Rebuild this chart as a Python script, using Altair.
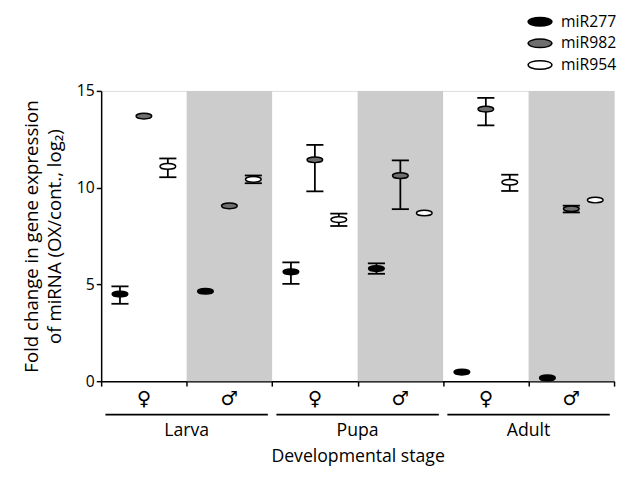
import altair as alt
import pandas as pd

# ---- data ----
stages = ["Larva", "Pupa", "Adult"]
sexes = ["♀", "♂"]
series = ["miR277", "miR982", "miR954"]

# mean values per group (Larva ♀, Larva ♂, Pupa ♀, Pupa ♂, Adult ♀, Adult ♂)
mir277_mean = [4.5, 4.65, 5.65, 5.82, 0.47, 0.17]
mir982_mean = [13.7, 9.06, 11.44, 10.62, 14.06, 8.91]
mir954_mean = [11.1, 10.43, 8.35, 8.69, 10.28, 9.36]

mir277_lo = [4.0, None, 5.03, 5.55, None, None]
mir277_hi = [4.9, None, 6.14, 6.09, None, None]
mir982_lo = [None, None, 9.81, 8.89, 13.22, 8.72]
mir982_hi = [None, None, 12.21, 11.41, 14.64, 9.07]
mir954_lo = [10.54, 10.23, 8.02, None, 9.83, None]
mir954_hi = [11.51, 10.63, 8.66, None, 10.67, None]

fill_colors = ["#000000", "#6e6e6e", "#ffffff"]
shade_color = "#cccccc"

W, H = 523, 296
FONT = "Open Sans"

# ---- build tables ----
groups = [(st, sx) for st in stages for sx in sexes]
offsets = [0.22, 0.5, 0.78]
cap_half = 0.1

means = [mir277_mean, mir982_mean, mir954_mean]
los = [mir277_lo, mir982_lo, mir954_lo]
his = [mir277_hi, mir982_hi, mir954_hi]

rows = []
for gi, (st, sx) in enumerate(groups):
    for si, s in enumerate(series):
        rows.append({
            "group": gi, "stage": st, "sex": sx, "series": s,
            "pos": gi + offsets[si],
            "cap0": gi + offsets[si] - cap_half,
            "cap1": gi + offsets[si] + cap_half,
            "mean": means[si][gi], "lo": los[si][gi], "hi": his[si][gi],
        })
df = pd.DataFrame(rows)
err = df.dropna(subset=["lo", "hi"])

grp = pd.DataFrame([{"g0": gi, "g1": gi + 1, "mid": gi + 0.5, "sex": sx,
                     "male": sx == "♂"} for gi, (st, sx) in enumerate(groups)])
shade = grp[grp["male"]].assign(top=15, bottom=0)

stg = pd.DataFrame([{"stage": st, "s0": 2 * i + 0.05, "s1": 2 * i + 2 - 0.05,
                     "mid": 2 * i + 1} for i, st in enumerate(stages)])

xscale = alt.Scale(domain=[0, 6], nice=False, zero=False)
yscale = alt.Scale(domain=[0, 15], nice=False)

ellipse = "M-1,0A1,0.36,0,1,0,1,0A1,0.36,0,1,0,-1,0Z"
ellipse_leg = "M-1.4,0A1.4,0.5,0,1,0,1.4,0A1.4,0.5,0,1,0,-1.4,0Z"

xaxis = alt.Axis(values=[0, 1, 2, 3, 4, 5, 6], labels=False, grid=False,
                 tickSize=5, tickColor="black", tickWidth=1.5,
                 domainColor="black", domainWidth=1.5,
                 title="Developmental stage", titleFontSize=18,
                 titleFont=FONT, titleFontWeight="normal", titleColor="black",
                 titlePadding=62)

yaxis = alt.Axis(values=[0, 5, 10, 15], grid=False, tickSize=5,
                 tickColor="black", tickWidth=1.5, domainColor="black",
                 domainWidth=1.5, labelFontSize=16, labelFont=FONT,
                 labelColor="black", labelPadding=2,
                 title=["Fold change in gene expression",
                        "of miRNA (OX/cont., log₂)"],
                 titleFontSize=19, titleFont=FONT, titleFontWeight="normal",
                 titleColor="black", titlePadding=12, titleLineHeight=24)

bands = alt.Chart(shade).mark_rect(color=shade_color).encode(
    x=alt.X("g0:Q", scale=xscale, axis=xaxis),
    x2="g1:Q",
    y=alt.Y("top:Q", scale=yscale, axis=yaxis),
    y2="bottom:Q",
)

vrule = alt.Chart(err).mark_rule(color="black", strokeWidth=1.8).encode(
    x=alt.X("pos:Q", scale=xscale), y=alt.Y("lo:Q", scale=yscale), y2="hi:Q")
cap_lo = alt.Chart(err).mark_rule(color="black", strokeWidth=1.8).encode(
    x=alt.X("cap0:Q", scale=xscale), x2="cap1:Q", y=alt.Y("lo:Q", scale=yscale))
cap_hi = alt.Chart(err).mark_rule(color="black", strokeWidth=1.8).encode(
    x=alt.X("cap0:Q", scale=xscale), x2="cap1:Q", y=alt.Y("hi:Q", scale=yscale))

pts = alt.Chart(df).mark_point(
    shape=ellipse, size=256, filled=True, opacity=1, stroke="black",
    strokeWidth=1.5,
).encode(
    x=alt.X("pos:Q", scale=xscale),
    y=alt.Y("mean:Q", scale=yscale),
    fill=alt.Fill("series:N", scale=alt.Scale(domain=series, range=fill_colors),
                  legend=alt.Legend(title=None, orient="none", legendX=438,
                                    legendY=-80, padding=0, offset=0,
                                    symbolType=ellipse_leg,
                                    symbolSize=300, symbolStrokeColor="black",
                                    symbolStrokeWidth=1.5, symbolOpacity=1,
                                    labelFontSize=16, labelFont=FONT,
                                    labelColor="black", rowPadding=4,
                                    labelOffset=12)),
)

sex_txt = alt.Chart(grp).mark_text(fontSize=20, font="DejaVu Sans",
                                   color="black", baseline="middle").encode(
    x=alt.X("mid:Q", scale=xscale), y=alt.value(H + 18), text="sex:N")

stage_line = alt.Chart(stg).mark_rule(color="black", strokeWidth=1.8).encode(
    x=alt.X("s0:Q", scale=xscale), x2="s1:Q", y=alt.value(H + 34))

stage_txt = alt.Chart(stg).mark_text(fontSize=18, font=FONT, color="black",
                                     baseline="middle").encode(
    x=alt.X("mid:Q", scale=xscale), y=alt.value(H + 51), text="stage:N")

chart = alt.layer(bands, vrule, cap_lo, cap_hi, pts, sex_txt, stage_line,
                  stage_txt).properties(
    width=W, height=H, padding={"left": 14, "top": 0, "right": 0, "bottom": 0}
).configure_view(stroke=None).configure(background="white")

chart.save("out.html", embed_options={"renderer": "svg", "actions": False})
